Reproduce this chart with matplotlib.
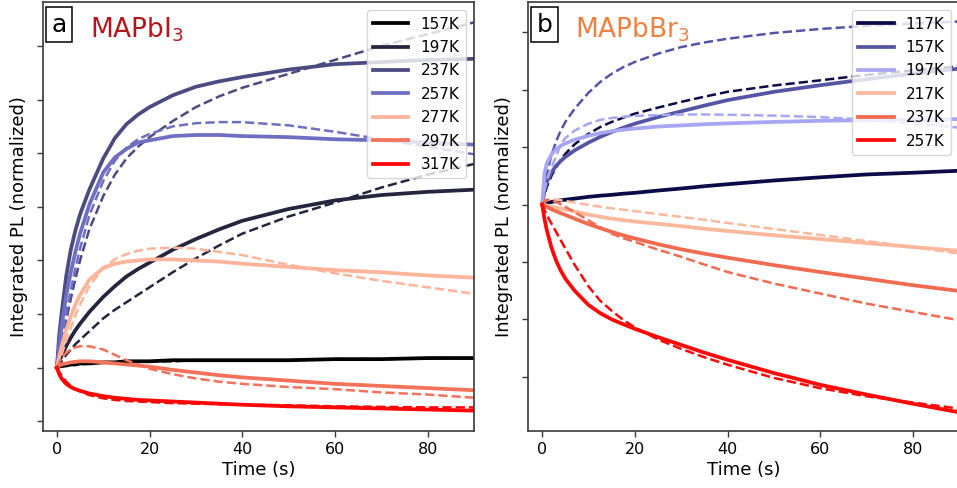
import matplotlib
matplotlib.use("Agg")
import matplotlib.pyplot as plt

# time axis shared by all curves (s)
time_s = [0, 0.5, 1, 2, 3, 4, 5, 7, 10, 12.5, 15, 17.5, 20, 25, 30, 35, 40, 50, 60, 70, 80, 90]

# ---- panel a: MAPbI3 ----
temps_a = ["157K", "197K", "237K", "257K", "277K", "297K", "317K"]
a_solid = [
    [1.00, 1.01, 1.02, 1.02, 1.03, 1.03, 1.04, 1.04, 1.05, 1.05, 1.06, 1.06, 1.06, 1.07, 1.07, 1.07, 1.07, 1.07, 1.08, 1.08, 1.09, 1.09],
    [1.00, 1.06, 1.11, 1.20, 1.28, 1.35, 1.41, 1.52, 1.66, 1.76, 1.85, 1.92, 1.98, 2.10, 2.20, 2.29, 2.37, 2.48, 2.56, 2.61, 2.64, 2.66],
    [1.00, 1.30, 1.50, 1.85, 2.10, 2.28, 2.43, 2.66, 2.95, 3.14, 3.27, 3.36, 3.43, 3.54, 3.62, 3.67, 3.71, 3.78, 3.83, 3.85, 3.87, 3.88],
    [1.00, 1.20, 1.38, 1.67, 1.89, 2.08, 2.25, 2.52, 2.82, 2.96, 3.04, 3.10, 3.12, 3.16, 3.17, 3.17, 3.16, 3.15, 3.13, 3.12, 3.10, 3.08],
    [1.00, 1.10, 1.19, 1.35, 1.48, 1.59, 1.68, 1.82, 1.93, 1.97, 1.99, 2.00, 2.01, 2.01, 2.00, 1.99, 1.97, 1.94, 1.91, 1.89, 1.86, 1.84],
    [1.00, 1.02, 1.03, 1.04, 1.05, 1.055, 1.06, 1.06, 1.05, 1.04, 1.03, 1.02, 1.01, 0.98, 0.955, 0.93, 0.91, 0.88, 0.85, 0.83, 0.81, 0.79],
    [1.00, 0.94, 0.90, 0.85, 0.82, 0.80, 0.785, 0.76, 0.735, 0.72, 0.71, 0.70, 0.695, 0.685, 0.675, 0.665, 0.655, 0.64, 0.63, 0.62, 0.61, 0.60],
]
a_dashed = [
    [1.00, 1.01, 1.01, 1.02, 1.03, 1.03, 1.03, 1.04, 1.05, 1.05, 1.05, 1.06, 1.06, 1.06, 1.07, 1.07, 1.07, 1.07, 1.08, 1.08, 1.09, 1.09],
    [1.00, 1.03, 1.06, 1.12, 1.17, 1.22, 1.26, 1.34, 1.46, 1.54, 1.61, 1.68, 1.75, 1.89, 2.02, 2.14, 2.25, 2.41, 2.54, 2.68, 2.80, 2.90],
    [1.00, 1.11, 1.22, 1.44, 1.64, 1.83, 2.00, 2.29, 2.60, 2.80, 2.95, 3.06, 3.15, 3.30, 3.43, 3.53, 3.61, 3.74, 3.87, 4.00, 4.11, 4.22],
    [1.00, 1.12, 1.25, 1.50, 1.72, 1.93, 2.11, 2.42, 2.74, 2.93, 3.05, 3.13, 3.18, 3.25, 3.28, 3.29, 3.29, 3.26, 3.20, 3.13, 3.06, 2.99],
    [1.00, 1.06, 1.12, 1.25, 1.37, 1.49, 1.59, 1.76, 1.93, 2.01, 2.06, 2.09, 2.11, 2.12, 2.11, 2.08, 2.05, 1.96, 1.88, 1.81, 1.75, 1.69],
    [1.00, 1.05, 1.09, 1.14, 1.17, 1.19, 1.20, 1.20, 1.17, 1.12, 1.07, 1.03, 0.99, 0.94, 0.90, 0.87, 0.85, 0.82, 0.80, 0.77, 0.75, 0.72],
    [1.00, 0.96, 0.93, 0.87, 0.83, 0.80, 0.78, 0.745, 0.715, 0.70, 0.69, 0.685, 0.68, 0.67, 0.665, 0.66, 0.655, 0.65, 0.64, 0.635, 0.63, 0.63],
]

# ---- panel b: MAPbBr3 ----
temps_b = ["117K", "157K", "197K", "217K", "237K", "257K"]
b_solid = [
    [1.000, 1.003, 1.006, 1.009, 1.012, 1.015, 1.017, 1.021, 1.027, 1.031, 1.034, 1.038, 1.041, 1.049, 1.056, 1.064, 1.071, 1.084, 1.095, 1.105, 1.111, 1.118],
    [1.000, 1.050, 1.079, 1.112, 1.135, 1.152, 1.166, 1.189, 1.216, 1.236, 1.253, 1.268, 1.282, 1.305, 1.325, 1.345, 1.364, 1.393, 1.416, 1.437, 1.456, 1.474],
    [1.000, 1.110, 1.143, 1.175, 1.193, 1.205, 1.213, 1.226, 1.240, 1.249, 1.256, 1.261, 1.265, 1.272, 1.276, 1.280, 1.283, 1.288, 1.292, 1.294, 1.296, 1.298],
    [1.000, 0.999, 0.997, 0.993, 0.990, 0.986, 0.983, 0.976, 0.965, 0.958, 0.951, 0.946, 0.941, 0.933, 0.925, 0.916, 0.908, 0.893, 0.880, 0.866, 0.852, 0.839],
    [1.000, 0.996, 0.992, 0.984, 0.977, 0.970, 0.964, 0.951, 0.932, 0.918, 0.905, 0.893, 0.882, 0.862, 0.844, 0.829, 0.815, 0.789, 0.765, 0.742, 0.719, 0.699],
    [1.000, 0.950, 0.911, 0.850, 0.805, 0.770, 0.742, 0.700, 0.650, 0.622, 0.600, 0.583, 0.567, 0.538, 0.511, 0.484, 0.459, 0.413, 0.372, 0.338, 0.306, 0.276],
]
b_dashed = [
    [1.000, 1.035, 1.062, 1.100, 1.130, 1.155, 1.177, 1.210, 1.247, 1.270, 1.288, 1.303, 1.317, 1.338, 1.358, 1.376, 1.393, 1.415, 1.433, 1.452, 1.468, 1.482],
    [1.000, 1.065, 1.108, 1.172, 1.220, 1.258, 1.288, 1.334, 1.390, 1.427, 1.456, 1.479, 1.497, 1.526, 1.549, 1.565, 1.578, 1.598, 1.612, 1.623, 1.631, 1.638],
    [1.000, 1.050, 1.085, 1.131, 1.166, 1.210, 1.232, 1.258, 1.282, 1.295, 1.302, 1.306, 1.309, 1.312, 1.314, 1.314, 1.313, 1.310, 1.305, 1.296, 1.282, 1.268],
    [1.000, 1.010, 1.015, 1.019, 1.017, 1.015, 1.013, 1.007, 0.999, 0.993, 0.987, 0.982, 0.977, 0.967, 0.957, 0.947, 0.936, 0.915, 0.894, 0.873, 0.852, 0.829],
    [1.000, 1.012, 1.017, 1.015, 1.009, 1.001, 0.992, 0.974, 0.945, 0.921, 0.899, 0.883, 0.870, 0.843, 0.818, 0.791, 0.765, 0.725, 0.690, 0.655, 0.626, 0.597],
    [1.000, 0.982, 0.963, 0.934, 0.905, 0.876, 0.847, 0.790, 0.715, 0.665, 0.630, 0.598, 0.572, 0.530, 0.497, 0.468, 0.442, 0.396, 0.360, 0.332, 0.310, 0.289],
]

colors_a = ["#000000", "#25253f", "#4b4b82", "#6e6ec2", "#fdb498", "#f4715a", "#ff0505"]
colors_b = ["#0b0b48", "#5555a6", "#a6a6f2", "#fcb89b", "#f26a50", "#ff0808"]

FRAME = "#3a3a3a"


def draw_panel(ax, temps, solid, dashed, colors, letter, title, title_color, ylim, yticks):
    for lab, s, d, c in zip(temps, solid, dashed, colors):
        ax.plot(time_s, s, color=c, lw=2.7, label=lab)
        ax.plot(time_s, d, color=c, lw=1.8, ls="--")

    ax.set_xlim(-3, 90)
    ax.set_ylim(*ylim)
    ax.set_xticks([0, 20, 40, 60, 80])
    ax.set_yticks(yticks)
    ax.set_yticklabels([])
    ax.tick_params(direction="out", length=4.5, width=1, color=FRAME, labelsize=11.5)
    for sp in ax.spines.values():
        sp.set_color(FRAME)
        sp.set_linewidth(1.2)

    ax.set_xlabel("Time (s)", fontsize=13, labelpad=3)
    ax.set_ylabel("Integrated PL (normalized)", fontsize=13, labelpad=3)

    ax.legend(loc="upper right", fontsize=11, handlelength=2.3, labelspacing=0.55,
              borderaxespad=0.55)

    ax.text(0.02, 0.975, letter, transform=ax.transAxes, ha="left", va="top", fontsize=18,
            bbox=dict(boxstyle="square,pad=0.22", fc="white", ec="black", lw=1.1))
    ax.text(0.109, 0.918, title, transform=ax.transAxes, ha="left", va="baseline",
            fontsize=19, color=title_color)


fig = plt.figure(figsize=(9.57, 4.88), dpi=100)
ax_a = fig.add_axes([0.0449, 0.1168, 0.4504, 0.8791])
ax_b = fig.add_axes([0.5520, 0.1168, 0.4504, 0.8791])

draw_panel(ax_a, temps_a, a_solid, a_dashed, colors_a, "a", "MAPbI$_3$", "#b3151a",
           (0.41, 4.41), [0.5, 1.0, 1.5, 2.0, 2.5, 3.0, 3.5, 4.0])
draw_panel(ax_b, temps_b, b_solid, b_dashed, colors_b, "b", "MAPbBr$_3$", "#ee8040",
           (0.211, 1.706), [0.4, 0.6, 0.8, 1.0, 1.2, 1.4, 1.6])

fig.savefig("out.png", dpi=100)
